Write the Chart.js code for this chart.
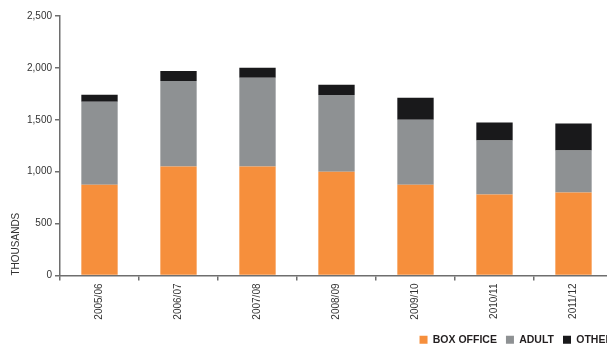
<!DOCTYPE html>
<html>
<head>
<meta charset="utf-8">
<script src="https://cdn.jsdelivr.net/npm/chart.js@4.4.1/dist/chart.umd.min.js"></script>
<style>
  html, body { margin: 0; padding: 0; overflow: hidden; background: #fff; }
</style>
</head>
<body>
<canvas id="myChart" width="616" height="355"></canvas>
<script>
const seasons = ['2005/06', '2006/07', '2007/08', '2008/09', '2009/10', '2010/11', '2011/12'];
const boxOffice = [875, 1050, 1050, 1000, 875, 780, 800];
const adult = [800, 825, 855, 740, 625, 520, 405];
const other = [67, 96, 96, 97, 212, 173, 260];
const yTicks = [0, 500, 1000, 1500, 2000, 2500];

const font = 'Liberation Sans, Arial, Helvetica, sans-serif';
const axisColor = '#6e6e6e';

// push the legend row a little to the right so it runs off the edge
const legendShift = {
  id: 'legendShift',
  afterLayout(chart) {
    chart.legend.left += 9;
    chart.legend.right += 9;
  }
};

const ctx = document.getElementById('myChart').getContext('2d');

new Chart(ctx, {
  type: 'bar',
  data: {
    labels: seasons,
    datasets: [
      { label: 'BOX OFFICE', data: boxOffice, backgroundColor: '#f68f3c' },
      { label: 'ADULT', data: adult, backgroundColor: '#8e9193' },
      { label: 'OTHER', data: other, backgroundColor: '#19191b' }
    ]
  },
  plugins: [legendShift],
  options: {
    responsive: false,
    animation: false,
    layout: { padding: { top: 16, left: 0, right: 3, bottom: 0 } },
    datasets: {
      bar: { categoryPercentage: 0.46, barPercentage: 1, borderWidth: 0 }
    },
    plugins: {
      tooltip: { enabled: false },
      legend: {
        position: 'bottom',
        align: 'end',
        labels: {
          boxWidth: 8,
          boxHeight: 8,
          padding: 9,
          color: '#231f20',
          font: { family: font, size: 10.5, weight: 'bold' }
        }
      }
    },
    scales: {
      x: {
        stacked: true,
        afterFit: (scale) => { scale.height = 50; },
        border: { color: axisColor, width: 1.5 },
        grid: { drawOnChartArea: false, tickLength: 5, color: axisColor, lineWidth: 1.5 },
        ticks: {
          minRotation: 90,
          maxRotation: 90,
          padding: 3,
          color: '#333',
          font: { family: font, size: 10 }
        }
      },
      y: {
        stacked: true,
        min: 0,
        max: 2500,
        afterFit: (scale) => { scale.width = 60; },
        afterBuildTicks: (scale) => { scale.ticks = yTicks.map(v => ({ value: v })); },
        border: { color: axisColor, width: 1.5 },
        grid: { drawOnChartArea: false, tickLength: 5, color: axisColor, lineWidth: 1.5 },
        title: {
          display: true,
          text: 'THOUSANDS',
          align: 'start',
          color: '#333',
          padding: { top: 10, bottom: 6 },
          font: { family: font, size: 10 }
        },
        ticks: {
          padding: 3,
          color: '#333',
          font: { family: font, size: 10 },
          callback: (value) => value.toLocaleString('en-US')
        }
      }
    }
  }
});
</script>
</body>
</html>
